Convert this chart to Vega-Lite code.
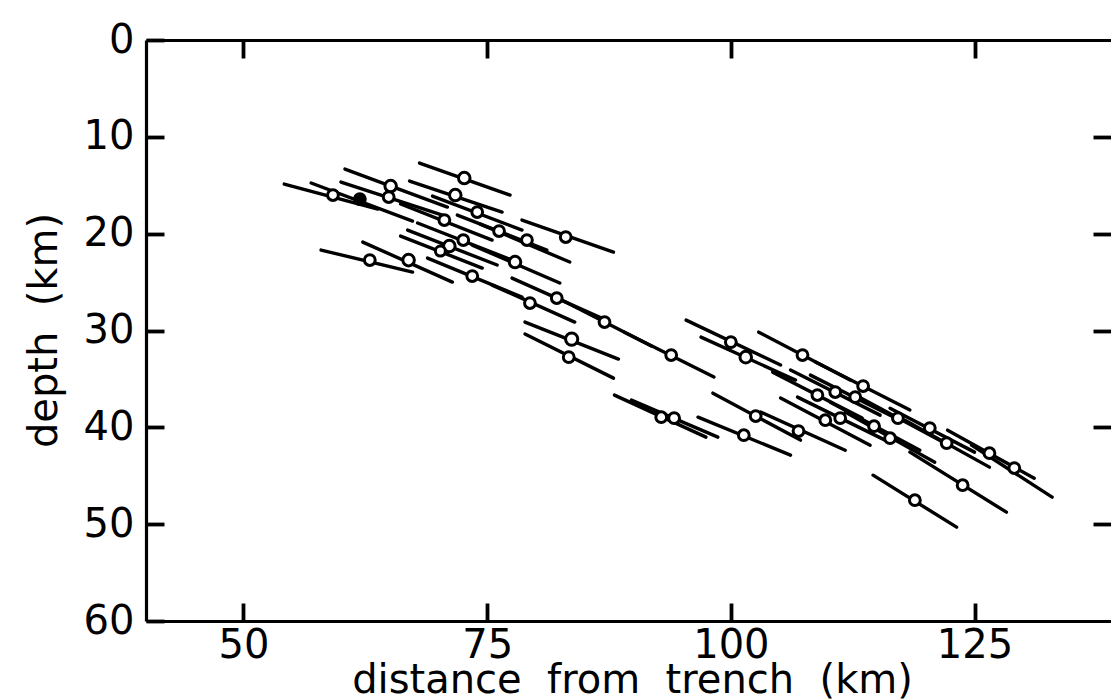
{
  "$schema": "https://vega.github.io/schema/vega-lite/v6.json",
  "width": 965,
  "height": 581,
  "autosize": {"type": "none"},
  "padding": {"left": 146, "top": 40, "right": 0, "bottom": 79},
  "background": "white",
  "config": {
    "view": {"stroke": null},
    "font": "DejaVu Sans",
    "axis": {
      "grid": false,
      "domainColor": "black",
      "domainWidth": 3.2,
      "tickColor": "black",
      "tickWidth": 3.8,
      "labelColor": "black",
      "titleColor": "black",
      "labelFont": "DejaVu Sans",
      "titleFont": "DejaVu Sans",
      "labelFontSize": 40,
      "titleFontSize": 40,
      "titleFontWeight": "normal"
    }
  },
  "data": {
    "values": [
      {"x": 59.18, "y": 16.01, "x1": 54.18, "y1": 14.88, "x2": 63.78, "y2": 17.46, "m": "s", "t": "open"},
      {"x": 61.94, "y": 16.43, "x1": 56.94, "y1": 14.77, "x2": 67.35, "y2": 18.70, "m": "s", "t": "filled"},
      {"x": 65.10, "y": 15.08, "x1": 60.41, "y1": 13.33, "x2": 70.92, "y2": 17.25, "m": "m", "t": "open"},
      {"x": 64.90, "y": 16.22, "x1": 60.00, "y1": 14.67, "x2": 70.41, "y2": 18.08, "m": "s", "t": "open"},
      {"x": 72.65, "y": 14.26, "x1": 68.06, "y1": 12.71, "x2": 77.35, "y2": 16.01, "m": "m", "t": "open"},
      {"x": 71.73, "y": 16.01, "x1": 67.04, "y1": 14.57, "x2": 76.53, "y2": 17.77, "m": "m", "t": "open"},
      {"x": 73.98, "y": 17.77, "x1": 69.39, "y1": 16.12, "x2": 78.57, "y2": 19.63, "m": "s", "t": "open"},
      {"x": 70.61, "y": 18.60, "x1": 66.12, "y1": 16.94, "x2": 75.51, "y2": 20.66, "m": "s", "t": "open"},
      {"x": 76.22, "y": 19.73, "x1": 71.94, "y1": 18.08, "x2": 81.12, "y2": 21.69, "m": "s", "t": "open"},
      {"x": 79.08, "y": 20.66, "x1": 74.29, "y1": 19.01, "x2": 83.47, "y2": 22.93, "m": "s", "t": "open"},
      {"x": 83.06, "y": 20.35, "x1": 78.57, "y1": 18.60, "x2": 87.96, "y2": 21.90, "m": "s", "t": "open"},
      {"x": 72.55, "y": 20.66, "x1": 67.86, "y1": 18.90, "x2": 77.55, "y2": 22.73, "m": "s", "t": "open"},
      {"x": 71.12, "y": 21.28, "x1": 66.84, "y1": 19.63, "x2": 76.02, "y2": 23.24, "m": "m", "t": "open"},
      {"x": 70.20, "y": 21.80, "x1": 66.12, "y1": 20.25, "x2": 74.49, "y2": 23.55, "m": "t", "t": "open"},
      {"x": 62.96, "y": 22.73, "x1": 57.96, "y1": 21.69, "x2": 67.35, "y2": 23.97, "m": "s", "t": "open"},
      {"x": 66.94, "y": 22.73, "x1": 62.24, "y1": 20.87, "x2": 71.43, "y2": 25.00, "m": "m", "t": "open"},
      {"x": 77.86, "y": 22.93, "x1": 73.47, "y1": 21.18, "x2": 82.45, "y2": 25.10, "m": "m", "t": "open"},
      {"x": 73.47, "y": 24.38, "x1": 68.88, "y1": 22.52, "x2": 78.57, "y2": 26.55, "m": "s", "t": "open"},
      {"x": 79.39, "y": 27.17, "x1": 75.51, "y1": 25.31, "x2": 83.98, "y2": 29.13, "m": "s", "t": "open"},
      {"x": 82.14, "y": 26.65, "x1": 77.55, "y1": 24.59, "x2": 86.73, "y2": 28.72, "m": "s", "t": "open"},
      {"x": 87.04, "y": 29.13, "x1": 82.65, "y1": 26.86, "x2": 91.84, "y2": 31.61, "m": "s", "t": "open"},
      {"x": 83.67, "y": 30.89, "x1": 78.88, "y1": 29.13, "x2": 88.47, "y2": 32.95, "m": "l", "t": "open"},
      {"x": 83.37, "y": 32.75, "x1": 78.88, "y1": 30.37, "x2": 87.96, "y2": 34.92, "m": "s", "t": "open"},
      {"x": 93.88, "y": 32.54, "x1": 89.08, "y1": 30.17, "x2": 98.27, "y2": 34.81, "m": "s", "t": "open"},
      {"x": 92.86, "y": 38.95, "x1": 88.06, "y1": 36.67, "x2": 97.45, "y2": 41.01, "m": "s", "t": "open"},
      {"x": 94.18, "y": 39.05, "x1": 89.80, "y1": 37.19, "x2": 98.67, "y2": 41.01, "m": "s", "t": "open"},
      {"x": 100.00, "y": 31.20, "x1": 95.41, "y1": 28.93, "x2": 105.10, "y2": 33.57, "m": "s", "t": "open"},
      {"x": 101.53, "y": 32.75, "x1": 96.94, "y1": 30.68, "x2": 106.63, "y2": 35.12, "m": "m", "t": "open"},
      {"x": 107.35, "y": 32.54, "x1": 102.86, "y1": 30.17, "x2": 112.24, "y2": 35.12, "m": "s", "t": "open"},
      {"x": 113.57, "y": 35.74, "x1": 108.67, "y1": 33.26, "x2": 118.37, "y2": 38.22, "m": "s", "t": "open"},
      {"x": 108.88, "y": 36.67, "x1": 104.29, "y1": 34.30, "x2": 113.47, "y2": 39.05, "m": "s", "t": "open"},
      {"x": 110.71, "y": 36.36, "x1": 106.12, "y1": 34.09, "x2": 115.31, "y2": 38.74, "m": "s", "t": "open"},
      {"x": 112.76, "y": 36.88, "x1": 108.16, "y1": 34.61, "x2": 117.35, "y2": 39.26, "m": "s", "t": "open"},
      {"x": 109.69, "y": 39.26, "x1": 105.10, "y1": 36.98, "x2": 114.29, "y2": 41.84, "m": "s", "t": "open"},
      {"x": 111.22, "y": 39.05, "x1": 106.84, "y1": 36.88, "x2": 115.82, "y2": 41.32, "m": "s", "t": "open"},
      {"x": 114.69, "y": 39.88, "x1": 110.20, "y1": 37.40, "x2": 119.39, "y2": 42.36, "m": "s", "t": "open"},
      {"x": 116.33, "y": 41.12, "x1": 111.73, "y1": 38.43, "x2": 120.92, "y2": 43.60, "m": "s", "t": "open"},
      {"x": 117.14, "y": 39.05, "x1": 112.76, "y1": 36.67, "x2": 121.94, "y2": 41.63, "m": "s", "t": "open"},
      {"x": 120.41, "y": 40.08, "x1": 116.33, "y1": 38.02, "x2": 125.00, "y2": 42.56, "m": "s", "t": "open"},
      {"x": 122.14, "y": 41.63, "x1": 117.86, "y1": 39.26, "x2": 126.53, "y2": 44.11, "m": "s", "t": "open"},
      {"x": 126.53, "y": 42.67, "x1": 122.24, "y1": 40.29, "x2": 131.12, "y2": 45.25, "m": "s", "t": "open"},
      {"x": 129.08, "y": 44.21, "x1": 124.69, "y1": 41.84, "x2": 132.96, "y2": 47.21, "m": "s", "t": "open"},
      {"x": 123.78, "y": 45.97, "x1": 118.37, "y1": 42.56, "x2": 128.27, "y2": 48.76, "m": "s", "t": "open"},
      {"x": 118.88, "y": 47.52, "x1": 114.59, "y1": 44.94, "x2": 123.16, "y2": 50.31, "m": "s", "t": "open"},
      {"x": 102.55, "y": 38.84, "x1": 98.16, "y1": 36.47, "x2": 107.14, "y2": 41.32, "m": "s", "t": "open"},
      {"x": 101.33, "y": 40.81, "x1": 96.63, "y1": 38.95, "x2": 106.12, "y2": 42.87, "m": "s", "t": "open"},
      {"x": 106.94, "y": 40.39, "x1": 103.06, "y1": 38.43, "x2": 111.73, "y2": 42.36, "m": "s", "t": "open"}
    ]
  },
  "layer": [
    {
      "mark": {"type": "rule", "strokeWidth": 3.4, "color": "black", "strokeCap": "round"},
      "encoding": {
        "x": {
          "field": "x1", "type": "quantitative",
          "scale": {"domain": [40, 139], "nice": false, "zero": false},
          "axis": {
            "orient": "bottom",
            "values": [50, 75, 100, 125],
            "tickSize": -18,
            "labelPadding": 22,
            "labelFlush": false,
            "title": "distance\u00a0 from\u00a0 trench\u00a0 (km)",
            "titleX": 486,
            "titleY": 71,
            "titleAnchor": "middle",
            "titleAlign": "center",
            "titleBaseline": "alphabetic"
          }
        },
        "x2": {"field": "x2"},
        "y": {
          "field": "y1", "type": "quantitative",
          "scale": {"domain": [0, 60], "nice": false, "zero": false, "reverse": true},
          "axis": {
            "orient": "left",
            "values": [0, 10, 20, 30, 40, 50, 60],
            "tickSize": -18,
            "labelPadding": 30,
            "labelFlush": false,
            "title": "depth\u00a0 (km)",
            "titleX": -90,
            "titleY": 290,
            "titleAngle": -90,
            "titleAlign": "center",
            "titleBaseline": "alphabetic"
          }
        },
        "y2": {"field": "y2"}
      }
    },
    {
      "mark": {"type": "point", "shape": "circle", "filled": true, "stroke": "black", "strokeWidth": 3, "opacity": 1},
      "encoding": {
        "x": {
          "field": "x", "type": "quantitative",
          "axis": {"orient": "top", "values": [50, 75, 100, 125], "labels": false, "title": null, "tickSize": -18}
        },
        "y": {
          "field": "y", "type": "quantitative",
          "axis": {"orient": "right", "values": [10, 20, 30, 40, 50], "labels": false, "title": null, "domain": false, "tickSize": -18}
        },
        "fill": {
          "field": "t", "type": "nominal",
          "scale": {"domain": ["open", "filled"], "range": ["white", "black"]},
          "legend": null
        },
        "size": {
          "field": "m", "type": "nominal",
          "scale": {"domain": ["t", "s", "m", "l"], "range": [100, 150, 220, 420]},
          "legend": null
        }
      }
    }
  ],
  "resolve": {"axis": {"x": "independent", "y": "independent"}}
}
